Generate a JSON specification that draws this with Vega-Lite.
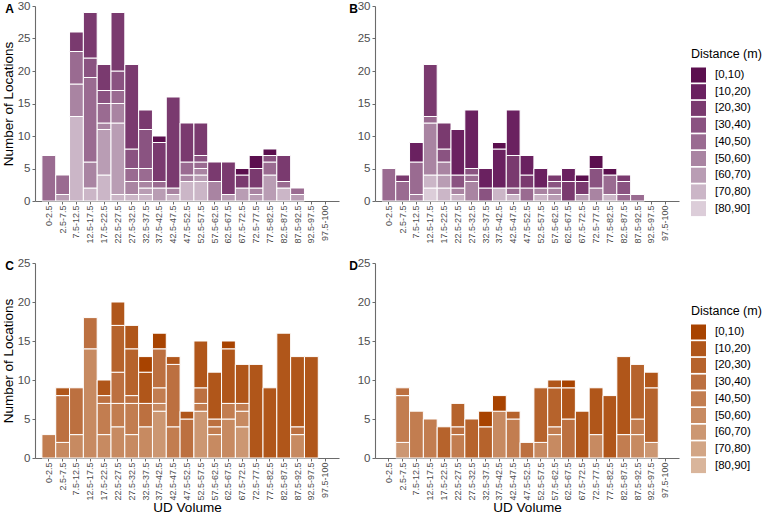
{
  "$schema": "https://vega.github.io/schema/vega-lite/v6.json",
  "padding": {"left": 1, "top": 0, "right": 4, "bottom": 0},
  "background": "white",
  "config": {
    "font": "Liberation Sans",
    "view": {"stroke": null},
    "axis": {"domainColor": "#6b6b6b", "tickColor": "#6b6b6b", "labelColor": "#4d4d4d", "titleColor": "#000000", "titleFontWeight": "normal", "titleFontSize": 13.5, "labelFontSize": 11.5, "tickSize": 3, "labelPadding": 2, "titlePadding": 2, "grid": false, "domainWidth": 1.1},
    "axisX": {"labelFontSize": 9, "labelAngle": -90, "labelPadding": 1, "titlePadding": 0},
    "title": {"anchor": "start", "frame": "bounds", "fontSize": 12, "fontWeight": "bold", "offset": -16, "dx": 4, "color": "#000000"},
    "legend": {"orient": "none", "legendX": 316, "legendY": 42, "symbolType": "square", "symbolSize": 225, "symbolStrokeWidth": 0, "rowPadding": 1.7, "labelFontSize": 11.5, "titleFontSize": 12.5, "titleFontWeight": "normal", "titlePadding": 7, "labelOffset": 9, "labelColor": "#000000", "titleColor": "#000000"}
  },
  "datasets": {
    "A": [
      {"ud": "0-2.5", "dist": "[40,50)", "n": 7},
      {"ud": "2.5-7.5", "dist": "[60,70)", "n": 1}, {"ud": "2.5-7.5", "dist": "[40,50)", "n": 3},
      {"ud": "7.5-12.5", "dist": "[70,80)", "n": 13}, {"ud": "7.5-12.5", "dist": "[50,60)", "n": 5}, {"ud": "7.5-12.5", "dist": "[40,50)", "n": 5}, {"ud": "7.5-12.5", "dist": "[20,30)", "n": 3},
      {"ud": "12.5-17.5", "dist": "[70,80)", "n": 2}, {"ud": "12.5-17.5", "dist": "[50,60)", "n": 4}, {"ud": "12.5-17.5", "dist": "[40,50)", "n": 13}, {"ud": "12.5-17.5", "dist": "[30,40)", "n": 3}, {"ud": "12.5-17.5", "dist": "[20,30)", "n": 7},
      {"ud": "17.5-22.5", "dist": "[70,80)", "n": 4}, {"ud": "17.5-22.5", "dist": "[60,70)", "n": 7}, {"ud": "17.5-22.5", "dist": "[50,60)", "n": 1}, {"ud": "17.5-22.5", "dist": "[40,50)", "n": 3}, {"ud": "17.5-22.5", "dist": "[30,40)", "n": 2}, {"ud": "17.5-22.5", "dist": "[20,30)", "n": 4},
      {"ud": "22.5-27.5", "dist": "[70,80)", "n": 1}, {"ud": "22.5-27.5", "dist": "[60,70)", "n": 11}, {"ud": "22.5-27.5", "dist": "[50,60)", "n": 3}, {"ud": "22.5-27.5", "dist": "[40,50)", "n": 2}, {"ud": "22.5-27.5", "dist": "[30,40)", "n": 3}, {"ud": "22.5-27.5", "dist": "[20,30)", "n": 9},
      {"ud": "27.5-32.5", "dist": "[70,80)", "n": 1}, {"ud": "27.5-32.5", "dist": "[50,60)", "n": 2}, {"ud": "27.5-32.5", "dist": "[40,50)", "n": 2}, {"ud": "27.5-32.5", "dist": "[30,40)", "n": 3}, {"ud": "27.5-32.5", "dist": "[20,30)", "n": 13},
      {"ud": "32.5-37.5", "dist": "[70,80)", "n": 1}, {"ud": "32.5-37.5", "dist": "[60,70)", "n": 1}, {"ud": "32.5-37.5", "dist": "[50,60)", "n": 1}, {"ud": "32.5-37.5", "dist": "[40,50)", "n": 2}, {"ud": "32.5-37.5", "dist": "[30,40)", "n": 6}, {"ud": "32.5-37.5", "dist": "[20,30)", "n": 3},
      {"ud": "37.5-42.5", "dist": "[60,70)", "n": 2}, {"ud": "37.5-42.5", "dist": "[40,50)", "n": 1}, {"ud": "37.5-42.5", "dist": "[20,30)", "n": 6}, {"ud": "37.5-42.5", "dist": "[0,10)", "n": 1},
      {"ud": "42.5-47.5", "dist": "[70,80)", "n": 1}, {"ud": "42.5-47.5", "dist": "[50,60)", "n": 1}, {"ud": "42.5-47.5", "dist": "[20,30)", "n": 14},
      {"ud": "47.5-52.5", "dist": "[70,80)", "n": 3}, {"ud": "47.5-52.5", "dist": "[50,60)", "n": 1}, {"ud": "47.5-52.5", "dist": "[40,50)", "n": 2}, {"ud": "47.5-52.5", "dist": "[20,30)", "n": 6},
      {"ud": "52.5-57.5", "dist": "[70,80)", "n": 3}, {"ud": "52.5-57.5", "dist": "[60,70)", "n": 1}, {"ud": "52.5-57.5", "dist": "[50,60)", "n": 1}, {"ud": "52.5-57.5", "dist": "[40,50)", "n": 1}, {"ud": "52.5-57.5", "dist": "[30,40)", "n": 1}, {"ud": "52.5-57.5", "dist": "[20,30)", "n": 5},
      {"ud": "57.5-62.5", "dist": "[50,60)", "n": 3}, {"ud": "57.5-62.5", "dist": "[20,30)", "n": 3},
      {"ud": "62.5-67.5", "dist": "[60,70)", "n": 1}, {"ud": "62.5-67.5", "dist": "[20,30)", "n": 5},
      {"ud": "67.5-72.5", "dist": "[60,70)", "n": 2}, {"ud": "67.5-72.5", "dist": "[20,30)", "n": 2}, {"ud": "67.5-72.5", "dist": "[0,10)", "n": 1},
      {"ud": "72.5-77.5", "dist": "[60,70)", "n": 1}, {"ud": "72.5-77.5", "dist": "[50,60)", "n": 1}, {"ud": "72.5-77.5", "dist": "[20,30)", "n": 3}, {"ud": "72.5-77.5", "dist": "[0,10)", "n": 2},
      {"ud": "77.5-82.5", "dist": "[60,70)", "n": 4}, {"ud": "77.5-82.5", "dist": "[40,50)", "n": 2}, {"ud": "77.5-82.5", "dist": "[30,40)", "n": 1}, {"ud": "77.5-82.5", "dist": "[0,10)", "n": 1},
      {"ud": "82.5-87.5", "dist": "[70,80)", "n": 2}, {"ud": "82.5-87.5", "dist": "[40,50)", "n": 1}, {"ud": "82.5-87.5", "dist": "[20,30)", "n": 4},
      {"ud": "87.5-92.5", "dist": "[60,70)", "n": 1}, {"ud": "87.5-92.5", "dist": "[40,50)", "n": 1}
    ],
    "B": [
      {"ud": "0-2.5", "dist": "[40,50)", "n": 5},
      {"ud": "2.5-7.5", "dist": "[40,50)", "n": 3}, {"ud": "2.5-7.5", "dist": "[20,30)", "n": 1},
      {"ud": "7.5-12.5", "dist": "[50,60)", "n": 1}, {"ud": "7.5-12.5", "dist": "[40,50)", "n": 5}, {"ud": "7.5-12.5", "dist": "[10,20)", "n": 3},
      {"ud": "12.5-17.5", "dist": "[80,90]", "n": 2}, {"ud": "12.5-17.5", "dist": "[70,80)", "n": 2}, {"ud": "12.5-17.5", "dist": "[50,60)", "n": 8}, {"ud": "12.5-17.5", "dist": "[40,50)", "n": 1}, {"ud": "12.5-17.5", "dist": "[20,30)", "n": 8},
      {"ud": "17.5-22.5", "dist": "[70,80)", "n": 2}, {"ud": "17.5-22.5", "dist": "[60,70)", "n": 2}, {"ud": "17.5-22.5", "dist": "[50,60)", "n": 2}, {"ud": "17.5-22.5", "dist": "[30,40)", "n": 2}, {"ud": "17.5-22.5", "dist": "[20,30)", "n": 4},
      {"ud": "22.5-27.5", "dist": "[70,80)", "n": 1}, {"ud": "22.5-27.5", "dist": "[50,60)", "n": 1}, {"ud": "22.5-27.5", "dist": "[30,40)", "n": 2}, {"ud": "22.5-27.5", "dist": "[10,20)", "n": 7},
      {"ud": "27.5-32.5", "dist": "[50,60)", "n": 3}, {"ud": "27.5-32.5", "dist": "[40,50)", "n": 1}, {"ud": "27.5-32.5", "dist": "[30,40)", "n": 1}, {"ud": "27.5-32.5", "dist": "[10,20)", "n": 9},
      {"ud": "32.5-37.5", "dist": "[30,40)", "n": 2}, {"ud": "32.5-37.5", "dist": "[10,20)", "n": 3},
      {"ud": "37.5-42.5", "dist": "[70,80)", "n": 2}, {"ud": "37.5-42.5", "dist": "[10,20)", "n": 6}, {"ud": "37.5-42.5", "dist": "[0,10)", "n": 1},
      {"ud": "42.5-47.5", "dist": "[70,80)", "n": 1}, {"ud": "42.5-47.5", "dist": "[40,50)", "n": 1}, {"ud": "42.5-47.5", "dist": "[20,30)", "n": 5}, {"ud": "42.5-47.5", "dist": "[10,20)", "n": 7},
      {"ud": "47.5-52.5", "dist": "[40,50)", "n": 2}, {"ud": "47.5-52.5", "dist": "[20,30)", "n": 2}, {"ud": "47.5-52.5", "dist": "[10,20)", "n": 3},
      {"ud": "52.5-57.5", "dist": "[70,80)", "n": 1}, {"ud": "52.5-57.5", "dist": "[50,60)", "n": 1}, {"ud": "52.5-57.5", "dist": "[10,20)", "n": 3},
      {"ud": "57.5-62.5", "dist": "[60,70)", "n": 1}, {"ud": "57.5-62.5", "dist": "[50,60)", "n": 1}, {"ud": "57.5-62.5", "dist": "[30,40)", "n": 1}, {"ud": "57.5-62.5", "dist": "[20,30)", "n": 1},
      {"ud": "62.5-67.5", "dist": "[20,30)", "n": 3}, {"ud": "62.5-67.5", "dist": "[10,20)", "n": 2},
      {"ud": "67.5-72.5", "dist": "[60,70)", "n": 1}, {"ud": "67.5-72.5", "dist": "[20,30)", "n": 2}, {"ud": "67.5-72.5", "dist": "[0,10)", "n": 1},
      {"ud": "72.5-77.5", "dist": "[50,60)", "n": 2}, {"ud": "72.5-77.5", "dist": "[30,40)", "n": 3}, {"ud": "72.5-77.5", "dist": "[0,10)", "n": 2},
      {"ud": "77.5-82.5", "dist": "[70,80)", "n": 1}, {"ud": "77.5-82.5", "dist": "[40,50)", "n": 3}, {"ud": "77.5-82.5", "dist": "[0,10)", "n": 1},
      {"ud": "82.5-87.5", "dist": "[40,50)", "n": 1}, {"ud": "82.5-87.5", "dist": "[30,40)", "n": 2}, {"ud": "82.5-87.5", "dist": "[20,30)", "n": 1},
      {"ud": "87.5-92.5", "dist": "[40,50)", "n": 1}
    ],
    "C": [
      {"ud": "0-2.5", "dist": "[40,50)", "n": 3},
      {"ud": "2.5-7.5", "dist": "[50,60)", "n": 2}, {"ud": "2.5-7.5", "dist": "[30,40)", "n": 6}, {"ud": "2.5-7.5", "dist": "[10,20)", "n": 1},
      {"ud": "7.5-12.5", "dist": "[50,60)", "n": 3}, {"ud": "7.5-12.5", "dist": "[30,40)", "n": 6},
      {"ud": "12.5-17.5", "dist": "[50,60)", "n": 14}, {"ud": "12.5-17.5", "dist": "[30,40)", "n": 4},
      {"ud": "17.5-22.5", "dist": "[50,60)", "n": 3}, {"ud": "17.5-22.5", "dist": "[40,50)", "n": 4}, {"ud": "17.5-22.5", "dist": "[30,40)", "n": 1}, {"ud": "17.5-22.5", "dist": "[10,20)", "n": 2},
      {"ud": "22.5-27.5", "dist": "[50,60)", "n": 4}, {"ud": "22.5-27.5", "dist": "[40,50)", "n": 3}, {"ud": "22.5-27.5", "dist": "[30,40)", "n": 4}, {"ud": "22.5-27.5", "dist": "[20,30)", "n": 6}, {"ud": "22.5-27.5", "dist": "[10,20)", "n": 3},
      {"ud": "27.5-32.5", "dist": "[50,60)", "n": 3}, {"ud": "27.5-32.5", "dist": "[40,50)", "n": 4}, {"ud": "27.5-32.5", "dist": "[30,40)", "n": 1}, {"ud": "27.5-32.5", "dist": "[20,30)", "n": 6}, {"ud": "27.5-32.5", "dist": "[10,20)", "n": 3},
      {"ud": "32.5-37.5", "dist": "[50,60)", "n": 4}, {"ud": "32.5-37.5", "dist": "[30,40)", "n": 3}, {"ud": "32.5-37.5", "dist": "[10,20)", "n": 4}, {"ud": "32.5-37.5", "dist": "[0,10)", "n": 2},
      {"ud": "37.5-42.5", "dist": "[60,70)", "n": 6}, {"ud": "37.5-42.5", "dist": "[50,60)", "n": 1}, {"ud": "37.5-42.5", "dist": "[40,50)", "n": 2}, {"ud": "37.5-42.5", "dist": "[30,40)", "n": 5}, {"ud": "37.5-42.5", "dist": "[0,10)", "n": 2},
      {"ud": "42.5-47.5", "dist": "[40,50)", "n": 4}, {"ud": "42.5-47.5", "dist": "[30,40)", "n": 8}, {"ud": "42.5-47.5", "dist": "[10,20)", "n": 1},
      {"ud": "47.5-52.5", "dist": "[30,40)", "n": 5}, {"ud": "47.5-52.5", "dist": "[10,20)", "n": 1},
      {"ud": "52.5-57.5", "dist": "[60,70)", "n": 6}, {"ud": "52.5-57.5", "dist": "[40,50)", "n": 1}, {"ud": "52.5-57.5", "dist": "[30,40)", "n": 2}, {"ud": "52.5-57.5", "dist": "[10,20)", "n": 6},
      {"ud": "57.5-62.5", "dist": "[50,60)", "n": 3}, {"ud": "57.5-62.5", "dist": "[40,50)", "n": 1}, {"ud": "57.5-62.5", "dist": "[30,40)", "n": 1}, {"ud": "57.5-62.5", "dist": "[10,20)", "n": 6},
      {"ud": "62.5-67.5", "dist": "[50,60)", "n": 5}, {"ud": "62.5-67.5", "dist": "[40,50)", "n": 2}, {"ud": "62.5-67.5", "dist": "[10,20)", "n": 7}, {"ud": "62.5-67.5", "dist": "[0,10)", "n": 1},
      {"ud": "67.5-72.5", "dist": "[60,70)", "n": 4}, {"ud": "67.5-72.5", "dist": "[50,60)", "n": 2}, {"ud": "67.5-72.5", "dist": "[40,50)", "n": 1}, {"ud": "67.5-72.5", "dist": "[10,20)", "n": 5},
      {"ud": "72.5-77.5", "dist": "[10,20)", "n": 12},
      {"ud": "77.5-82.5", "dist": "[10,20)", "n": 9},
      {"ud": "82.5-87.5", "dist": "[10,20)", "n": 16},
      {"ud": "87.5-92.5", "dist": "[50,60)", "n": 3}, {"ud": "87.5-92.5", "dist": "[30,40)", "n": 1}, {"ud": "87.5-92.5", "dist": "[10,20)", "n": 9},
      {"ud": "92.5-97.5", "dist": "[10,20)", "n": 13}
    ],
    "D": [
      {"ud": "2.5-7.5", "dist": "[60,70)", "n": 2}, {"ud": "2.5-7.5", "dist": "[40,50)", "n": 6}, {"ud": "2.5-7.5", "dist": "[30,40)", "n": 1},
      {"ud": "7.5-12.5", "dist": "[40,50)", "n": 6},
      {"ud": "12.5-17.5", "dist": "[40,50)", "n": 5},
      {"ud": "17.5-22.5", "dist": "[20,30)", "n": 4},
      {"ud": "22.5-27.5", "dist": "[40,50)", "n": 3}, {"ud": "22.5-27.5", "dist": "[30,40)", "n": 1}, {"ud": "22.5-27.5", "dist": "[20,30)", "n": 3},
      {"ud": "27.5-32.5", "dist": "[20,30)", "n": 5},
      {"ud": "32.5-37.5", "dist": "[20,30)", "n": 4}, {"ud": "32.5-37.5", "dist": "[0,10)", "n": 2},
      {"ud": "37.5-42.5", "dist": "[50,60)", "n": 6}, {"ud": "37.5-42.5", "dist": "[0,10)", "n": 2},
      {"ud": "42.5-47.5", "dist": "[40,50)", "n": 5}, {"ud": "42.5-47.5", "dist": "[20,30)", "n": 1},
      {"ud": "47.5-52.5", "dist": "[30,40)", "n": 2},
      {"ud": "52.5-57.5", "dist": "[50,60)", "n": 2}, {"ud": "52.5-57.5", "dist": "[20,30)", "n": 7},
      {"ud": "57.5-62.5", "dist": "[50,60)", "n": 3}, {"ud": "57.5-62.5", "dist": "[40,50)", "n": 1}, {"ud": "57.5-62.5", "dist": "[20,30)", "n": 5}, {"ud": "57.5-62.5", "dist": "[10,20)", "n": 1},
      {"ud": "62.5-67.5", "dist": "[30,40)", "n": 5}, {"ud": "62.5-67.5", "dist": "[10,20)", "n": 4}, {"ud": "62.5-67.5", "dist": "[0,10)", "n": 1},
      {"ud": "67.5-72.5", "dist": "[10,20)", "n": 6},
      {"ud": "72.5-77.5", "dist": "[50,60)", "n": 3}, {"ud": "72.5-77.5", "dist": "[10,20)", "n": 6},
      {"ud": "77.5-82.5", "dist": "[10,20)", "n": 8},
      {"ud": "82.5-87.5", "dist": "[40,50)", "n": 3}, {"ud": "82.5-87.5", "dist": "[10,20)", "n": 10},
      {"ud": "87.5-92.5", "dist": "[50,60)", "n": 3}, {"ud": "87.5-92.5", "dist": "[40,50)", "n": 2}, {"ud": "87.5-92.5", "dist": "[20,30)", "n": 7},
      {"ud": "92.5-97.5", "dist": "[60,70)", "n": 2}, {"ud": "92.5-97.5", "dist": "[20,30)", "n": 7}, {"ud": "92.5-97.5", "dist": "[10,20)", "n": 2}
    ]
  },
  "spacing": 13,
  "resolve": {"scale": {"color": "independent"}, "legend": {"color": "independent"}},
  "vconcat": [
    {
      "spacing": 10,
      "resolve": {"scale": {"color": "independent"}, "legend": {"color": "independent"}},
      "hconcat": [
        {
          "title": "A",
          "width": 304, "height": 195,
          "data": {"name": "A"},
          "mark": {"type": "bar", "stroke": "white", "strokeWidth": 1},
          "encoding": {
            "x": {"field": "ud", "type": "nominal", "sort": null, "scale": {"domain": ["0-2.5", "2.5-7.5", "7.5-12.5", "12.5-17.5", "17.5-22.5", "22.5-27.5", "27.5-32.5", "32.5-37.5", "37.5-42.5", "42.5-47.5", "47.5-52.5", "52.5-57.5", "57.5-62.5", "62.5-67.5", "67.5-72.5", "72.5-77.5", "77.5-82.5", "82.5-87.5", "87.5-92.5", "92.5-97.5", "97.5-100"], "paddingInner": 0, "paddingOuter": 0.5}, "axis": {"title": null}},
            "y": {"field": "n", "type": "quantitative", "stack": "zero", "scale": {"domain": [0, 30]}, "axis": {"title": "Number of Locations", "values": [0, 5, 10, 15, 20, 25, 30]}},
            "color": {"field": "dist", "type": "nominal", "scale": {"domain": ["[0,10)", "[10,20)", "[20,30)", "[30,40)", "[40,50)", "[50,60)", "[60,70)", "[70,80)", "[80,90]"], "range": ["#5b0f4e", "#6a2160", "#7a3a6f", "#8a5381", "#9a6b91", "#a984a2", "#b99db4", "#cbb6c7", "#dccdd9"]}, "legend": null},
            "order": {"field": "dist", "sort": "descending"}
          }
        },
        {
          "title": {"text": "B", "dx": -8},
          "width": 304, "height": 195,
          "data": {"name": "B"},
          "mark": {"type": "bar", "stroke": "white", "strokeWidth": 1},
          "encoding": {
            "x": {"field": "ud", "type": "nominal", "sort": null, "scale": {"domain": ["0-2.5", "2.5-7.5", "7.5-12.5", "12.5-17.5", "17.5-22.5", "22.5-27.5", "27.5-32.5", "32.5-37.5", "37.5-42.5", "42.5-47.5", "47.5-52.5", "52.5-57.5", "57.5-62.5", "62.5-67.5", "67.5-72.5", "72.5-77.5", "77.5-82.5", "82.5-87.5", "87.5-92.5", "92.5-97.5", "97.5-100"], "paddingInner": 0, "paddingOuter": 0.5}, "axis": {"title": null}},
            "y": {"field": "n", "type": "quantitative", "stack": "zero", "scale": {"domain": [0, 30]}, "axis": {"title": null, "values": [0, 5, 10, 15, 20, 25, 30]}},
            "color": {"field": "dist", "type": "nominal", "scale": {"domain": ["[0,10)", "[10,20)", "[20,30)", "[30,40)", "[40,50)", "[50,60)", "[60,70)", "[70,80)", "[80,90]"], "range": ["#5b0f4e", "#6a2160", "#7a3a6f", "#8a5381", "#9a6b91", "#a984a2", "#b99db4", "#cbb6c7", "#dccdd9"]}, "legend": {"title": "Distance (m)"}},
            "order": {"field": "dist", "sort": "descending"}
          }
        }
      ]
    },
    {
      "spacing": 10,
      "resolve": {"scale": {"color": "independent"}, "legend": {"color": "independent"}},
      "hconcat": [
        {
          "title": "C",
          "width": 304, "height": 195,
          "data": {"name": "C"},
          "mark": {"type": "bar", "stroke": "white", "strokeWidth": 1},
          "encoding": {
            "x": {"field": "ud", "type": "nominal", "sort": null, "scale": {"domain": ["0-2.5", "2.5-7.5", "7.5-12.5", "12.5-17.5", "17.5-22.5", "22.5-27.5", "27.5-32.5", "32.5-37.5", "37.5-42.5", "42.5-47.5", "47.5-52.5", "52.5-57.5", "57.5-62.5", "62.5-67.5", "67.5-72.5", "72.5-77.5", "77.5-82.5", "82.5-87.5", "87.5-92.5", "92.5-97.5", "97.5-100"], "paddingInner": 0, "paddingOuter": 0.5}, "axis": {"title": "UD Volume"}},
            "y": {"field": "n", "type": "quantitative", "stack": "zero", "scale": {"domain": [0, 25]}, "axis": {"title": "Number of Locations", "values": [0, 5, 10, 15, 20, 25]}},
            "color": {"field": "dist", "type": "nominal", "scale": {"domain": ["[0,10)", "[10,20)", "[20,30)", "[30,40)", "[40,50)", "[50,60)", "[60,70)", "[70,80)", "[80,90]"], "range": ["#a84300", "#b0561a", "#b6632c", "#bc7040", "#c27d50", "#c78a61", "#cc9772", "#d2a585", "#d9b59b"]}, "legend": null},
            "order": {"field": "dist", "sort": "descending"}
          }
        },
        {
          "title": {"text": "D", "dx": -8},
          "width": 304, "height": 195,
          "data": {"name": "D"},
          "mark": {"type": "bar", "stroke": "white", "strokeWidth": 1},
          "encoding": {
            "x": {"field": "ud", "type": "nominal", "sort": null, "scale": {"domain": ["0-2.5", "2.5-7.5", "7.5-12.5", "12.5-17.5", "17.5-22.5", "22.5-27.5", "27.5-32.5", "32.5-37.5", "37.5-42.5", "42.5-47.5", "47.5-52.5", "52.5-57.5", "57.5-62.5", "62.5-67.5", "67.5-72.5", "72.5-77.5", "77.5-82.5", "82.5-87.5", "87.5-92.5", "92.5-97.5", "97.5-100"], "paddingInner": 0, "paddingOuter": 0.5}, "axis": {"title": "UD Volume"}},
            "y": {"field": "n", "type": "quantitative", "stack": "zero", "scale": {"domain": [0, 25]}, "axis": {"title": null, "values": [0, 5, 10, 15, 20, 25]}},
            "color": {"field": "dist", "type": "nominal", "scale": {"domain": ["[0,10)", "[10,20)", "[20,30)", "[30,40)", "[40,50)", "[50,60)", "[60,70)", "[70,80)", "[80,90]"], "range": ["#a84300", "#b0561a", "#b6632c", "#bc7040", "#c27d50", "#c78a61", "#cc9772", "#d2a585", "#d9b59b"]}, "legend": {"title": "Distance (m)"}},
            "order": {"field": "dist", "sort": "descending"}
          }
        }
      ]
    }
  ]
}
